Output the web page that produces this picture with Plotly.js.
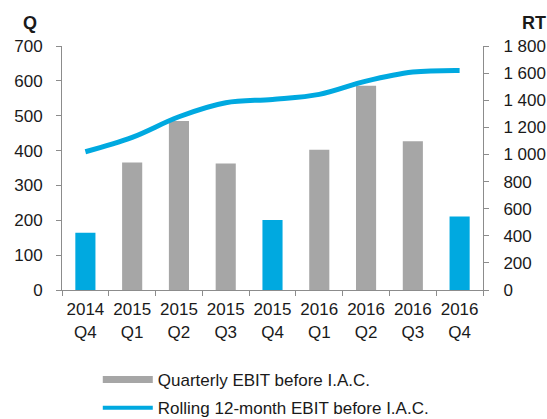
<!DOCTYPE html>
<html>
<head>
<meta charset="utf-8">
<script src="https://cdn.plot.ly/plotly-3.0.1.min.js"></script>
<style>
html,body{margin:0;padding:0;background:#fff;}
#chart{width:547px;height:419px;}
</style>
</head>
<body>
<div id="chart"></div>
<script>
var years = ["2014","2015","2015","2015","2015","2016","2016","2016","2016"];
var quarters = ["Q4","Q1","Q2","Q3","Q4","Q1","Q2","Q3","Q4"];
var quarterlyEbit = [164, 366, 485, 363, 201, 402, 586, 427, 211];
var rollingEbit = [1020, 1126, 1278, 1381, 1406, 1443, 1541, 1608, 1620];
var leftTicks = [0, 100, 200, 300, 400, 500, 600, 700];
var rightTicks = [0, 200, 400, 600, 800, 1000, 1200, 1400, 1600, 1800];

var BLUE = "#00A9E0";
var GRAY = "#A6A6A6";
var categories = years.map(function(y, i){ return y + "<br>" + quarters[i]; });
var barColors = quarters.map(function(q){ return q === "Q4" ? BLUE : GRAY; });

var FONT = "Liberation Sans, Arial, sans-serif";
var AXCOL = "#8C8C8C";

var traces = [
  {
    type: "bar", x: categories, y: quarterlyEbit, yaxis: "y",
    marker: {color: barColors, line: {width: 0}},
    showlegend: false, hoverinfo: "skip"
  },
  {
    type: "scatter", mode: "lines", x: categories, y: rollingEbit, yaxis: "y2",
    line: {color: BLUE, width: 5, shape: "spline", smoothing: 1},
    showlegend: false, hoverinfo: "skip"
  },
  {
    type: "scatter", mode: "lines", x: [null], y: [null], yaxis: "y",
    name: "Quarterly EBIT before I.A.C.",
    line: {color: GRAY, width: 7}, legendgroup: "a"
  },
  {
    type: "scatter", mode: "lines", x: [null], y: [null], yaxis: "y2",
    name: "Rolling 12-month EBIT before I.A.C.",
    line: {color: BLUE, width: 4}, legendgroup: "b"
  }
];

var layout = {
  width: 547, height: 419,
  margin: {l: 62, r: 64, t: 46, b: 129, pad: 0, autoexpand: false},
  paper_bgcolor: "#fff", plot_bgcolor: "#fff",
  font: {family: FONT, size: 17, color: "#1a1a1a"},
  bargap: 0.57,
  showlegend: true,
  legend: {
    x: 0.085, y: -0.295, xanchor: "left", yanchor: "top",
    orientation: "v", traceorder: "grouped", tracegroupgap: 3,
    itemwidth: 50, font: {family: FONT, size: 17, color: "#1a1a1a"},
    bgcolor: "rgba(0,0,0,0)"
  },
  xaxis: {
    type: "category", tickson: "boundaries", tickangle: 0, automargin: false,
    showline: true, linecolor: AXCOL, linewidth: 1,
    ticks: "outside", ticklen: 5, tickcolor: AXCOL,
    ticklabelstandoff: 4,
    showgrid: false, zeroline: false,
    tickfont: {family: FONT, size: 17, color: "#1a1a1a"},
    fixedrange: true
  },
  yaxis: {
    range: [0, 700], tickvals: leftTicks, automargin: false,
    showline: true, linecolor: AXCOL, linewidth: 1,
    ticks: "outside", ticklen: 5, tickcolor: AXCOL,
    ticklabelstandoff: 10,
    showgrid: false, zeroline: false,
    tickfont: {family: FONT, size: 17, color: "#1a1a1a"}
  },
  yaxis2: {
    range: [0, 1800], tickvals: rightTicks, overlaying: "y", side: "right",
    automargin: false, separatethousands: true,
    showline: true, linecolor: AXCOL, linewidth: 1,
    ticks: "outside", ticklen: 5, tickcolor: AXCOL,
    ticklabelstandoff: 11,
    showgrid: false, zeroline: false,
    tickfont: {family: FONT, size: 17, color: "#1a1a1a"}
  },
  separators: ". ",
  annotations: [
    {text: "<b>Q</b>", xref: "paper", yref: "paper", x: -0.076, y: 1.095, showarrow: false,
     xanchor: "center", yanchor: "middle", font: {family: FONT, size: 18, color: "#1a1a1a"}},
    {text: "<b>RT</b>", xref: "paper", yref: "paper", x: 1.1215, y: 1.095, showarrow: false,
     xanchor: "center", yanchor: "middle", font: {family: FONT, size: 18, color: "#1a1a1a"}}
  ]
};

Plotly.newPlot("chart", traces, layout, {displayModeBar: false, staticPlot: true});
</script>
</body>
</html>
